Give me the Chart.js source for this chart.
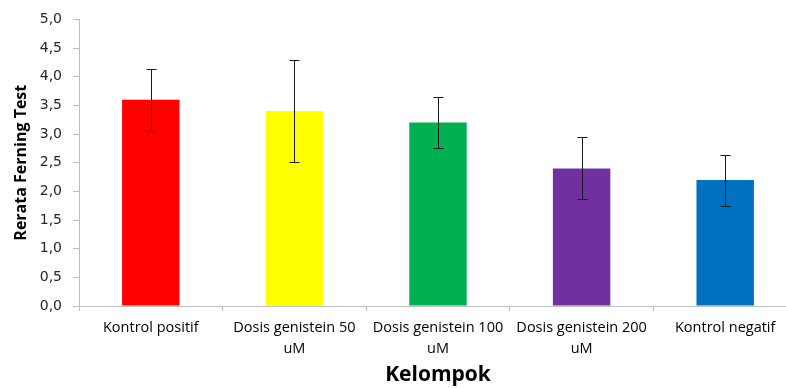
<!DOCTYPE html>
<html>
<head>
<meta charset="utf-8">
<script src="https://cdn.jsdelivr.net/npm/chart.js@4/dist/chart.umd.min.js"></script>
<style>
html,body{margin:0;padding:0;background:#fff;overflow:hidden;}
#wrap{width:800px;height:388px;}
</style>
</head>
<body>
<div id="wrap"><canvas id="c" width="800" height="388"></canvas></div>
<script>
const categories = [
  "Kontrol positif",
  ["Dosis genistein 50", "uM"],
  ["Dosis genistein 100", "uM"],
  ["Dosis genistein 200", "uM"],
  "Kontrol negatif"
];
const means = [3.6, 3.4, 3.2, 2.4, 2.2];
const errHigh = [4.14, 4.29, 3.65, 2.95, 2.64];
const errLow = [3.06, 2.51, 2.75, 1.86, 1.75];
const barColors = ["#FF0000", "#FFFF00", "#00B050", "#7030A0", "#0070C0"];
const yTicks = [0, 0.5, 1, 1.5, 2, 2.5, 3, 3.5, 4, 4.5, 5];

const errorBarPlugin = {
  id: 'errorBars',
  afterDatasetsDraw(chart) {
    const ctx = chart.ctx;
    const meta = chart.getDatasetMeta(0);
    const y = chart.scales.y;
    ctx.save();
    ctx.strokeStyle = '#1a1a1a';
    ctx.lineWidth = 1;
    meta.data.forEach((bar, i) => {
      const x = Math.round(bar.x) + 0.5;
      const yt = Math.round(y.getPixelForValue(errHigh[i])) + 0.5;
      const yb = Math.round(y.getPixelForValue(errLow[i])) + 0.5;
      ctx.beginPath();
      ctx.moveTo(x, yt); ctx.lineTo(x, yb);
      ctx.moveTo(x - 5, yt); ctx.lineTo(x + 5, yt);
      ctx.moveTo(x - 5, yb); ctx.lineTo(x + 5, yb);
      ctx.stroke();
    });
    ctx.restore();
  }
};

new Chart(document.getElementById('c'), {
  type: 'bar',
  data: {
    labels: categories,
    datasets: [{
      data: means,
      backgroundColor: barColors,
      barPercentage: 0.4,
      categoryPercentage: 1.0
    }]
  },
  options: {
    responsive: false,
    animation: false,
    layout: { padding: { left: 0, right: 3, top: 17, bottom: 0 } },
    plugins: { legend: { display: false }, tooltip: { enabled: false } },
    scales: {
      x: {
        afterFit(scale) { scale.height = 82; },
        grid: { offset: true, drawOnChartArea: false, color: '#bfbfbf', tickLength: 5 },
        border: { color: '#bfbfbf' },
        ticks: { color: '#000', font: { family: 'Open Sans', size: 14.5, lineHeight: 1.4 }, maxRotation: 0, autoSkip: false, padding: 7 },
        title: { display: true, text: 'Kelompok', color: '#000', font: { family: 'Open Sans', size: 21, weight: 'bold' }, padding: { top: -1.5, bottom: 0 } }
      },
      y: {
        min: 0, max: 5,
        afterFit(scale) { scale.width = 79; },
        afterBuildTicks(axis) { axis.ticks = yTicks.map(v => ({ value: v })); },
        grid: { drawOnChartArea: false, color: '#bfbfbf', tickLength: 6 },
        border: { color: '#bfbfbf' },
        ticks: {
          color: '#262626', font: { family: 'DejaVu Sans', size: 14 }, padding: 11,
          callback: v => v.toFixed(1).replace('.', ',')
        },
        title: { display: true, text: 'Rerata Ferning Test', color: '#000', font: { family: 'Open Sans', size: 16, weight: 'bold' }, padding: { top: 11.4, bottom: 0 } }
      }
    }
  },
  plugins: [errorBarPlugin]
});
</script>
</body>
</html>
